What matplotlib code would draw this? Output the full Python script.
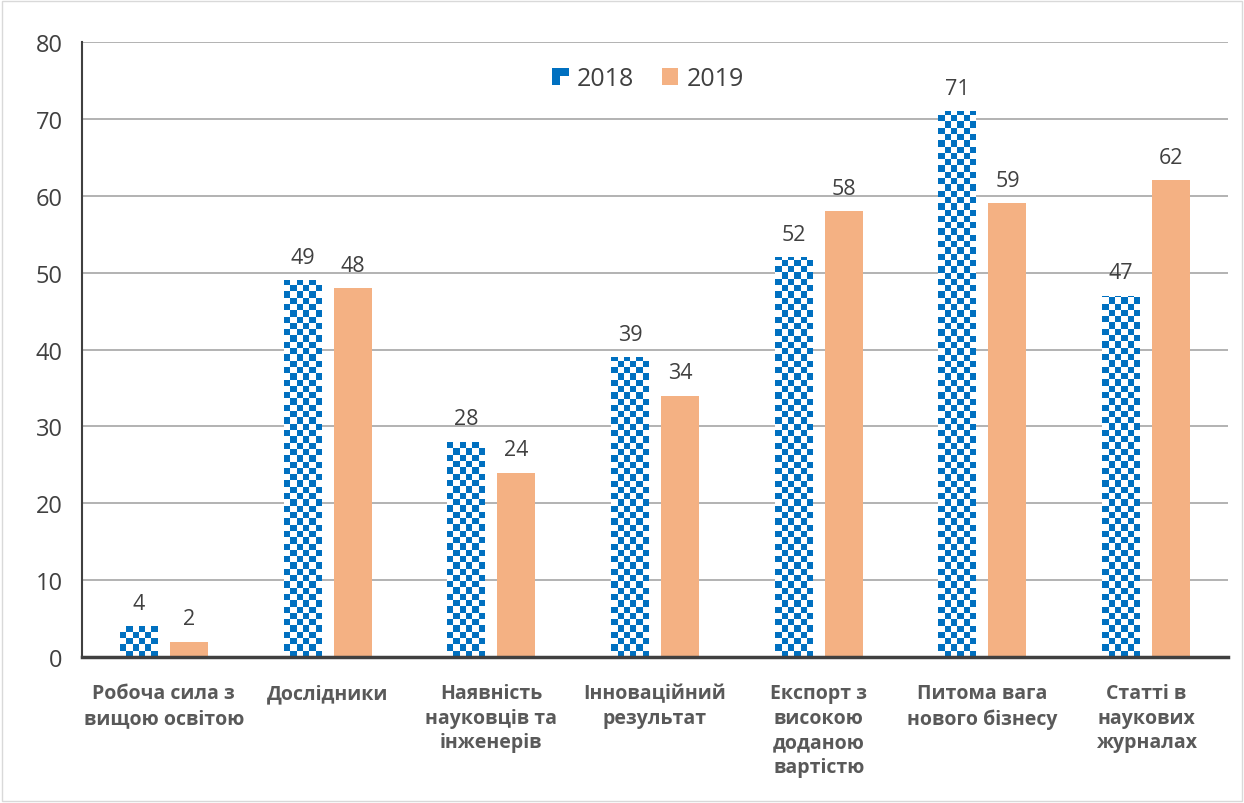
import numpy as np
import matplotlib
matplotlib.use("Agg")
import matplotlib.pyplot as plt
from matplotlib.patches import Patch, Rectangle

categories = ["Робоча сила з\nвищою освітою", "Дослідники", "Наявність\nнауковців та\nінженерів",
              "Інноваційний\nрезультат", "Експорт з\nвисокою\nдоданою\nвартістю",
              "Питома вага\nнового бізнесу", "Статті в\nнаукових\nжурналах"]
series_names = ["2018", "2019"]
values_2018 = [4, 49, 28, 39, 52, 71, 47]
values_2019 = [2, 48, 24, 34, 58, 59, 62]
yticks = [0, 10, 20, 30, 40, 50, 60, 70, 80]

BLUE = "#0070C0"
ORANGE = "#F4B183"
TXT = "#404040"

plt.rcParams['font.family'] = ['Open Sans', 'DejaVu Sans']

fig = plt.figure(figsize=(12.44, 8.04), dpi=100)
ax = fig.add_axes([82/1244, 1-658/804, 1146/1244, 615/804])

x = np.arange(len(categories))
w = 0.232
off = 0.153

bars18 = ax.bar(x - off, values_2018, w, color="white", zorder=2)
bars19 = ax.bar(x + off, values_2019, w, color=ORANGE, zorder=2)

img_cmap = matplotlib.colors.ListedColormap(["white", BLUE])
xmin, xmax = -0.5, len(categories) - 0.5
px_per_x = 1146 / len(categories)
px_per_y = 615 / 80
cell = 6.3
ncols = int(1146 / cell) + 1
nrows = int(615 / cell) + 1
board = np.indices((nrows, ncols)).sum(axis=0) % 2
for b in bars18:
    im = ax.imshow(board, cmap=img_cmap, interpolation="nearest", origin="lower",
                   extent=[xmin, xmin + ncols * cell / px_per_x, 0, nrows * cell / px_per_y],
                   aspect="auto", zorder=2.5)
    im.set_clip_path(b)
ax.set_xlim(xmin, xmax)
ax.set_ylim(0, 80)

for bars, vals in ((bars18, values_2018), (bars19, values_2019)):
    for b, v in zip(bars, vals):
        ax.annotate(str(v), (b.get_x() + b.get_width()/2, v), xytext=(0, 9), textcoords="offset points",
                    ha="center", va="bottom", fontsize=15.5, color=TXT)

ax.set_yticks(yticks)
ax.set_yticklabels([str(t) for t in yticks], fontsize=17, color=TXT)
ax.set_xticks(x)
ax.set_xticklabels(categories, fontsize=14, fontweight="bold", color="#595959", linespacing=1.3, va="top")
ax.tick_params(axis="x", length=0, pad=19)
ax.tick_params(axis="y", length=0, pad=14)
ax.grid(axis="y", color="#A6A6A6", linewidth=1.2, zorder=0)
ax.set_axisbelow(True)
for s in ["top", "right"]:
    ax.spines[s].set_visible(False)
ax.spines["left"].set_color("#404040")
ax.spines["left"].set_linewidth(1.5)
ax.spines["bottom"].set_color("#404040")
ax.spines["bottom"].set_linewidth(2.5)
ax.spines["bottom"].set_zorder(5)

# legend
handles = [Patch(facecolor="white", edgecolor="none"), Patch(facecolor=ORANGE, edgecolor="none")]
leg = ax.legend(handles, series_names, loc="center", bbox_to_anchor=((648-82)/1146, (658-80)/615),
                ncol=2, frameon=False, fontsize=18, handlelength=0.65, handleheight=0.65,
                handletextpad=0.35, columnspacing=1.1, labelcolor=TXT)
fig.canvas.draw()
hp = leg.legend_handles[0]
bb = hp.get_window_extent(fig.canvas.get_renderer())
inv = fig.transFigure.inverted()
(fx0, fy0), (fx1, fy1) = inv.transform([[bb.x0, bb.y0], [bb.x1, bb.y1]])
lax = fig.add_axes([fx0, fy0, fx1 - fx0, fy1 - fy0])
lax.imshow(np.array([[1, 1], [1, 0]]), cmap=img_cmap, interpolation="nearest", aspect="auto", origin="upper")
lax.axis("off")

fig.patches.append(Rectangle((0.002, 0.002), 0.996, 0.996, transform=fig.transFigure,
                             fill=False, edgecolor="#D9D9D9", linewidth=1))

fig.savefig("out.png", dpi=100)
